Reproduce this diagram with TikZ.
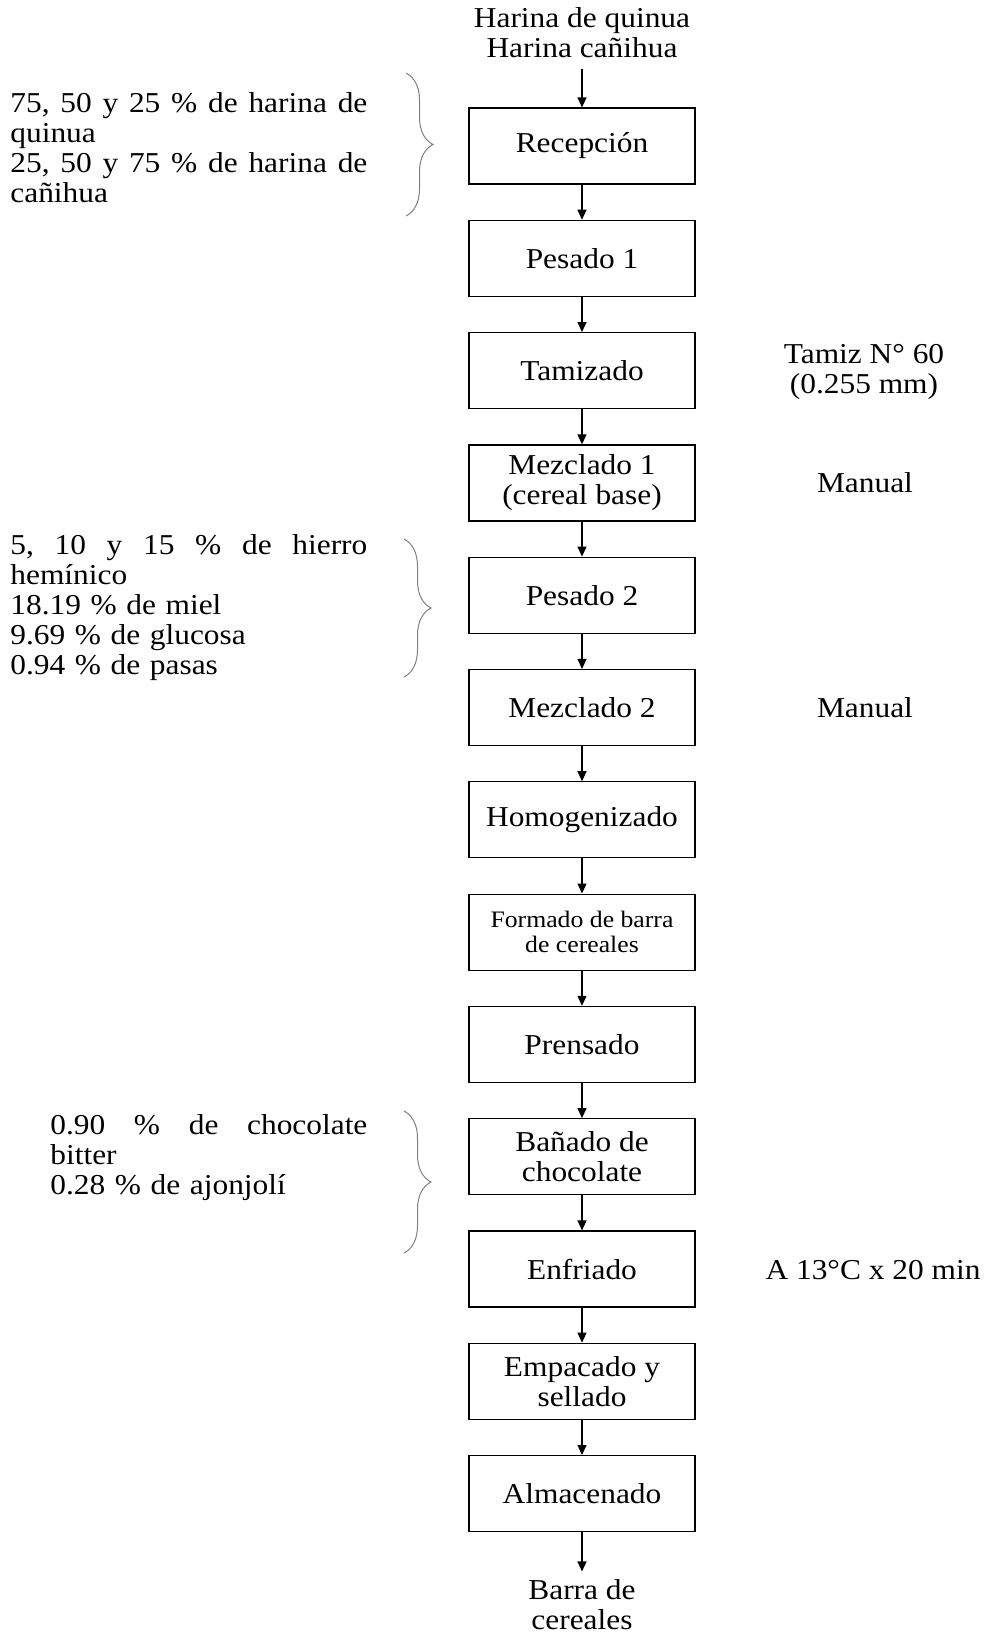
\documentclass[tikz,border=0pt]{standalone}
\usepackage{fontspec}
\setmainfont{Liberation Serif}[FakeStretch=1.09]
\usetikzlibrary{arrows.meta,decorations.pathreplacing}

\tikzset{
  proc/.style={draw, line width=0.6pt, minimum width=113pt, minimum height=38pt, inner sep=0pt, align=center},
  arr/.style={draw, line width=0.6pt, -{Triangle[length=5pt,width=4.5pt]}},
  brc/.style={draw=gray, line width=0.5pt, decorate, decoration={brace, amplitude=13.5pt}},
  note/.style={inner sep=0pt, align=center},
  side/.style={inner sep=0pt, anchor=west, align=left}
}

\begin{document}
\begin{tikzpicture}[x=0.5pt, y=-0.5pt, font=\fontsize{14.4}{15}\selectfont]
        \useasboundingbox (0,0) rectangle (985,1635);
        \node[note] (src) at (582,33) {Harina de quinua\\Harina cañihua};
        \node[proc] (recep) at (582,146) {Recepción};
        \node[proc] (pes1) at (582,258.3) {Pesado 1};
        \node[proc] (tamiz) at (582,370.6) {Tamizado};
        \node[proc] (mez1) at (582,482.9) {Mezclado 1\\(cereal base)};
        \node[proc] (pes2) at (582,595.2) {Pesado 2};
        \node[proc] (mez2) at (582,707.5) {Mezclado 2};
        \node[proc] (homo) at (582,819.8) {Homogenizado};
        \node[proc, font=\fontsize{11.8}{12.5}\selectfont] (form) at (582,932.1) {Formado de barra\\de cereales};
        \node[proc] (pren) at (582,1044.4) {Prensado};
        \node[proc] (banado) at (582,1156.7) {Bañado de\\chocolate};
        \node[proc] (enfr) at (582,1269) {Enfriado};
        \node[proc] (empac) at (582,1381.3) {Empacado y\\sellado};
        \node[proc] (almac) at (582,1493.6) {Almacenado};
        \node[note] (prod) at (582,1605) {Barra de\\cereales};

        \draw[arr, shorten <=5pt] (src) -- (recep);
        \draw[arr] (recep) -- (pes1);
        \draw[arr] (pes1) -- (tamiz);
        \draw[arr] (tamiz) -- (mez1);
        \draw[arr] (mez1) -- (pes2);
        \draw[arr] (pes2) -- (mez2);
        \draw[arr] (mez2) -- (homo);
        \draw[arr] (homo) -- (form);
        \draw[arr] (form) -- (pren);
        \draw[arr] (pren) -- (banado);
        \draw[arr] (banado) -- (enfr);
        \draw[arr] (enfr) -- (empac);
        \draw[arr] (empac) -- (almac);
        \draw[arr, shorten >=4pt] (almac) -- (prod);

        % justified lines are spread out by hand
        \node[side, text width=178.5pt] (harinas) at (10,147.5) {\leavevmode\hbox to 178.5pt{75,\hfill 50\hfill y\hfill 25\hfill \%\hfill de\hfill harina\hfill de}\\quinua\\\leavevmode\hbox to 178.5pt{25,\hfill 50\hfill y\hfill 75\hfill \%\hfill de\hfill harina\hfill de}\\cañihua};
        \node[side, text width=178.5pt] (insumos) at (10,607.5) {\leavevmode\hbox to 178.5pt{5,\hfill 10\hfill y\hfill 15\hfill \%\hfill de\hfill hierro}\\hemínico\\18.19 \% de miel\\9.69 \% de glucosa\\0.94 \% de pasas};
        \node[side, text width=158.5pt] (cobertura) at (50,1158) {\leavevmode\hbox to 158.5pt{0.90\hfill \%\hfill de\hfill chocolate}\\bitter\\0.28 \% de ajonjolí};
        \draw[brc] (406,73) -- (406,216);
        \draw[brc] (404,539) -- (404,677);
        \draw[brc] (404,1111) -- (404,1253);

        \node[note] (tamizlbl) at (864,371.5) {Tamiz N° 60\\(0.255 mm)};
        \node[note] (man1) at (865,483) {Manual};
        \node[note] (man2) at (865,707.5) {Manual};
        \node[note] (enfrlbl) at (873,1270) {A 13°C x 20 min};
\end{tikzpicture}
\end{document}
